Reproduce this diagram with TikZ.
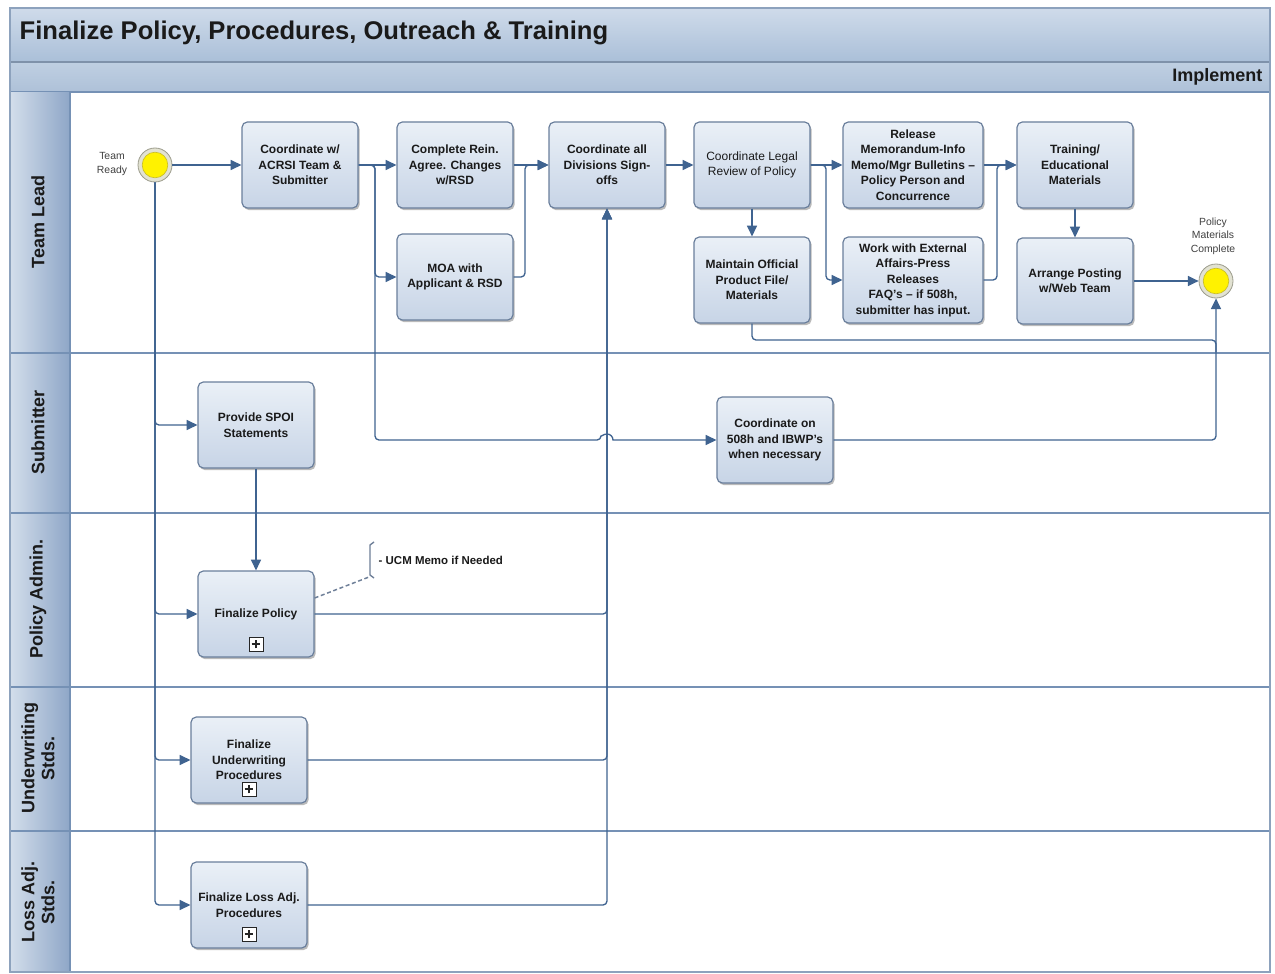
\documentclass[tikz,border=0pt]{standalone}
\usepackage{fontspec}
\setmainfont{Liberation Sans}
\usetikzlibrary{arrows.meta,shadows}

\definecolor{linecol}{HTML}{3F6390}
\definecolor{boxborder}{HTML}{6A7F9C}
\definecolor{boxtop}{HTML}{EAF0F7}
\definecolor{boxbot}{HTML}{C7D4E6}
\definecolor{hdrleft}{HTML}{D3DEEB}
\definecolor{hdrright}{HTML}{8EA6C7}
\definecolor{laneline}{HTML}{7591B5}
\definecolor{titletop}{HTML}{CFDBEA}
\definecolor{titlebot}{HTML}{AABFD8}
\definecolor{phasetop}{HTML}{BFCFE2}
\definecolor{phasebot}{HTML}{AEC1D8}
\definecolor{framecol}{HTML}{8DA2BD}
\definecolor{txt}{HTML}{1A1A1A}
\definecolor{evring}{HTML}{9C9C8C}
\definecolor{evouter}{HTML}{E2E2D2}
\definecolor{evyellow}{HTML}{FFF200}
\definecolor{evinner}{HTML}{C9BE2A}
\definecolor{annot}{HTML}{6E7F98}

\newcommand\tasksize{\fontsize{9}{11.6}\selectfont}

\begin{document}
\begin{tikzpicture}[x=0.75pt,y=-0.75pt,
  task/.style={draw=boxborder, line width=0.9pt, rounded corners=4pt,
    top color=boxtop, bottom color=boxbot,
    minimum width=87pt, minimum height=64.5pt, align=center, inner sep=1pt,
    font=\bfseries\tasksize, text=txt,
    drop shadow={shadow xshift=1.2pt, shadow yshift=-1.6pt, fill=black!45, opacity=0.6}},
  wide/.style={minimum width=105pt},
  plain/.style={font=\tasksize},
  flow/.style={draw=linecol, line width=1pt, rounded corners=3pt,
    -{Triangle[length=8pt,width=7.5pt]}},
  link/.style={draw=linecol, line width=1pt, rounded corners=3pt},
  lanename/.style={rotate=90, font=\bfseries\fontsize{13.5}{15}\selectfont, align=center, text=txt},
  event/.style={circle, minimum size=25.5pt, inner sep=0pt, draw=evring,
    line width=0.6pt, fill=evouter},
  evlabel/.style={font=\fontsize{7.8}{10}\selectfont, align=center, text=black!75},
  plusbox/.style={draw=black!85, fill=white, minimum size=10.5pt, inner sep=0pt, line width=0.7pt,
    path picture={
      \draw[line width=1.6pt] ([xshift=-3.2pt]path picture bounding box.center) -- ([xshift=3.2pt]path picture bounding box.center);
      \draw[line width=1.6pt] ([yshift=-3.2pt]path picture bounding box.center) -- ([yshift=3.2pt]path picture bounding box.center);}},
  laneline/.style={draw=laneline, line width=2.2pt}
]
\useasboundingbox (0,0) rectangle (1275,974);
\fill[white] (0,0) rectangle (1275,974);

% pool header bands
\shade[top color=titletop, bottom color=titlebot] (10,8) rectangle (1270,62);
\shade[top color=phasetop, bottom color=phasebot] (10,62) rectangle (1270,92);
\draw[framecol!90!black, line width=1.4pt] (10,62) -- (1270,62);
\draw[laneline] (10,92) -- (1270,92);

% lane header column
\shade[left color=hdrleft, right color=hdrright] (10,93) rectangle (70,972);

% lane separators
\draw[laneline] (10,353) -- (1270,353);
\draw[laneline] (10,513) -- (1270,513);
\draw[laneline] (10,687) -- (1270,687);
\draw[laneline] (10,831) -- (1270,831);
\draw[laneline] (70,92) -- (70,972);
\draw[framecol, line width=1.2pt] (10,8) rectangle (1270,972);

% titles
\node[anchor=west, font=\bfseries\fontsize{19.2}{21}\selectfont, text=txt] (title) at (15,33)
  {Finalize Policy, Procedures, Outreach \& Training};
\node[anchor=east, font=\bfseries\fontsize{13.5}{15}\selectfont, text=txt] (phase) at (1267,77) {Implement};

% lane names
\node[lanename] (laneTL) at (38,222) {Team Lead};
\node[lanename] (laneSU) at (38,432) {Submitter};
\node[lanename] (lanePA) at (38,599) {Policy Admin.};
\node[lanename] (laneUW) at (38,758) {Underwriting\\Stds.};
\node[lanename] (laneLA) at (38,902) {Loss Adj.\\Stds.};

% events
\node[event] (S) at (155,165) {};
\draw[draw=evinner, fill=evyellow, line width=0.5pt] (S.center) circle[radius=9.6pt];
\node[evlabel] (Slab) at (112,164) {Team\\Ready};
\node[event] (E) at (1216,281) {};
\draw[draw=evinner, fill=evyellow, line width=0.5pt] (E.center) circle[radius=9.6pt];
\node[evlabel] (Elab) at (1213,236) {Policy\\Materials\\Complete};

% team lead tasks
\node[task] (A1) at (300,165) {Coordinate w/\\ACRSI Team \&\\Submitter};
\node[task] (A2) at (455,165) {Complete Rein.\\Agree. Changes\\w/RSD};
\node[task] (A3) at (455,277) {MOA with\\Applicant \& RSD};
\node[task] (A4) at (607,165) {Coordinate all\\Divisions Sign-\\offs};
\node[task,plain] (A5) at (752,165) {Coordinate Legal\\Review of Policy};
\node[task] (A6) at (752,280) {Maintain Official\\Product File/\\Materials};
\node[task,wide] (A7) at (913,165) {Release\\Memorandum-Info\\Memo/Mgr Bulletins --\\Policy Person and\\Concurrence};
\node[task,wide] (A8) at (913,280) {Work with External\\Affairs-Press\\Releases\\FAQ's -- if 508h,\\submitter has input.};
\node[task] (A9) at (1075,165) {Training/\\Educational\\Materials};
\node[task] (A10) at (1075,281) {Arrange Posting\\w/Web Team};

% other lanes
\node[task] (B1) at (256,425) {Provide SPOI\\Statements};
\node[task] (B2) at (775,440) {Coordinate on\\508h and IBWP's\\when necessary};
\node[task] (C1) at (256,614) {Finalize Policy};
\node[task] (D1) at (249,760) {Finalize\\Underwriting\\Procedures};
\node[task] (E1) at (249,905) {Finalize Loss Adj.\\Procedures};
\node[plusbox] (C1p) at (256,644) {};
\node[plusbox] (D1p) at (249,789) {};
\node[plusbox] (E1p) at (249,934) {};

% annotation
\node[anchor=west, font=\bfseries\fontsize{8.6}{10}\selectfont, text=txt] (ucm) at (374,560) {- UCM Memo if Needed};
\draw[annot, line width=1pt] (374,542) -- (370,545) -- (370,575) -- (374,578);
\draw[annot, line width=1.1pt, densely dashed] ([yshift=12pt]C1.east) -- (369,577);

% sequence flows
\draw[flow] (S.east) -- (A1.west);
\draw[flow] (S.south) |- (B1.west);
\draw[flow] (S.south) |- (C1.west);
\draw[flow] (S.south) |- (D1.west);
\draw[flow] (S.south) |- (E1.west);

\draw[flow] (A1.east) -- (A2.west);
\draw[flow] (A1.east) -- (375,165) |- (A3.west);
\draw[flow] (A1.east) -- (375,165) -- (375,440) -- (601,440) [sharp corners]
  arc[start angle=180, end angle=0, radius=4.5pt] -- (B2.west);

\draw[flow] (A2.east) -- (A4.west);
\draw[flow] (A3.east) -- (525,277) |- (A4.west);

\draw[flow] (C1.east) -| (A4.south);
\draw[flow] (D1.east) -| (A4.south);
\draw[flow] (E1.east) -| (A4.south);

\draw[flow] (B1.south) -- (C1.north);

\draw[flow] (A4.east) -- (A5.west);
\draw[flow] (A5.south) -- (A6.north);
\draw[flow] (A5.east) -- (A7.west);
\draw[flow] (A5.east) -- (826,165) |- (A8.west);
\draw[flow] (A7.east) -- (A9.west);
\draw[flow] (A8.east) -- (997,280) |- (A9.west);
\draw[flow] (A9.south) -- (A10.north);
\draw[flow] (A10.east) -- (E.west);

\draw[link] (A6.south) -- (752,340) -- (1216,340) -- (1216,352);
\draw[flow] (B2.east) -| (E.south);
\end{tikzpicture}
\end{document}
